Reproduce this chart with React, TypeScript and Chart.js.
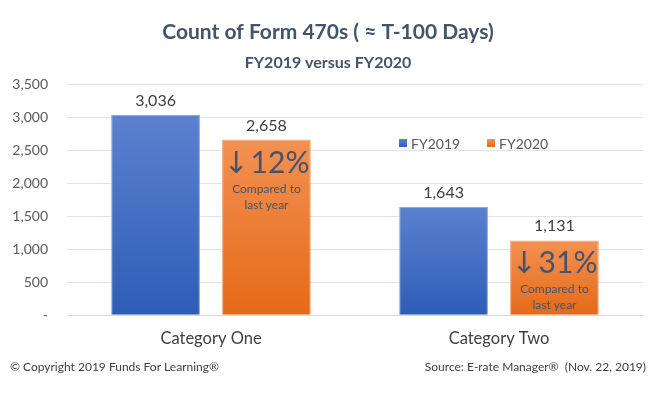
import React, { useEffect, useRef } from "react";
import { Chart, registerables } from "chart.js";

Chart.register(...registerables);

const categories = ["Category One", "Category Two"];
const fy2019 = [3036, 1643];
const fy2020 = [2658, 1131];
const seriesNames = ["FY2019", "FY2020"];
const yTicks = [0, 500, 1000, 1500, 2000, 2500, 3000, 3500];
const changePct = ["12%", "31%"];
const noteLines = ["Compared to", "last year"];
const titleText = "Count of Form 470s ( \u2248 T-100 Days)";
const subtitleText = "FY2019 versus FY2020";
const copyrightText = "\u00A9 Copyright 2019 Funds For Learning\u00AE";
const sourceText = "Source: E-rate Manager\u00AE  (Nov. 22, 2019)";

const FONT = "Lato, 'Open Sans', sans-serif";
const blueTop = "#5B81CF";
const blueBottom = "#2E5DB7";
const orangeTop = "#F39153";
const orangeBottom = "#E46A17";
const titleColor = "#44546A";

function gradientFor(topC: string, botC: string, fallback: string) {
  return (ctx: any) => {
    const chart = ctx.chart;
    const area = chart.chartArea;
    if (!area || ctx.type !== "data" || !chart.scales.y) return fallback;
    const top = chart.scales.y.getPixelForValue(ctx.raw as number);
    const g = chart.ctx.createLinearGradient(0, top, 0, area.bottom);
    g.addColorStop(0, topC);
    g.addColorStop(1, botC);
    return g;
  };
}

const fmt = (v: number) => v.toLocaleString("en-US");

const decorPlugin = {
  id: "decor",
  afterDraw(chart: any) {
    const c = chart.ctx as CanvasRenderingContext2D;
    c.save();
    // titles
    c.textAlign = "center";
    c.textBaseline = "alphabetic";
    c.fillStyle = titleColor;
    c.font = `bold 21px ${FONT}`;
    c.fillText(titleText, 328, 39);
    c.font = `bold 16px ${FONT}`;
    c.fillText(subtitleText, 328, 68);

    // value labels
    c.fillStyle = "#404040";
    c.font = `16px ${FONT}`;
    chart.data.datasets.forEach((ds: any, di: number) => {
      const meta = chart.getDatasetMeta(di);
      meta.data.forEach((bar: any, i: number) => {
        c.textAlign = "center";
        c.fillText(fmt(ds.data[i]), bar.x, bar.y - 9);
      });
    });

    // annotations in FY2020 bars
    const meta2 = chart.getDatasetMeta(1);
    meta2.data.forEach((bar: any, i: number) => {
      c.fillStyle = titleColor;
      c.textAlign = "left";
      c.font = `30px ${FONT}`;
      const pct = changePct[i];
      const pw = c.measureText(pct).width;
      c.font = `30px 'DejaVu Sans'`;
      const arrow = "\u2193";
      const aw = c.measureText(arrow).width;
      const total = aw + 2 + pw;
      const x0 = bar.x - total / 2;
      c.fillText(arrow, x0, bar.y + 33);
      c.font = `30px ${FONT}`;
      c.fillText(pct, x0 + aw + 2, bar.y + 33);
      c.textAlign = "center";
      c.font = `12px ${FONT}`;
      c.fillText(noteLines[0], bar.x, bar.y + 53);
      c.fillText(noteLines[1], bar.x, bar.y + 69);
    });

    // legend
    const colors = [blueBottom, orangeBottom];
    const legendX = [399, 487];
    c.font = `14px ${FONT}`;
    c.textBaseline = "middle";
    c.textAlign = "left";
    seriesNames.forEach((n, i) => {
      const g = c.createLinearGradient(0, 139, 0, 147);
      g.addColorStop(0, i === 0 ? blueTop : orangeTop);
      g.addColorStop(1, colors[i]);
      c.fillStyle = g;
      c.fillRect(legendX[i], 139, 8, 8);
      c.fillStyle = "#595959";
      c.fillText(n, legendX[i] + 12, 144);
    });

    // footer
    c.fillStyle = "#404040";
    c.font = `12px ${FONT}`;
    c.textAlign = "left";
    c.fillText(copyrightText, 10, 367);
    c.textAlign = "right";
    c.fillText(sourceText, 646, 367);
    c.restore();
  },
};

export default function App() {
  const ref = useRef<HTMLCanvasElement>(null);
  useEffect(() => {
    document.body.style.margin = "0";
    const canvas = ref.current!;
    const chart = new Chart(canvas, {
      type: "bar",
      data: {
        labels: categories,
        datasets: [
          {
            label: seriesNames[0],
            data: fy2019,
            backgroundColor: gradientFor(blueTop, blueBottom, blueBottom),
            borderColor: "#7E9DDB",
            borderWidth: 1,
            categoryPercentage: 0.77,
            barPercentage: 0.8,
          },
          {
            label: seriesNames[1],
            data: fy2020,
            backgroundColor: gradientFor(orangeTop, orangeBottom, orangeBottom),
            borderColor: "#F5A36E",
            borderWidth: 1,
            categoryPercentage: 0.77,
            barPercentage: 0.8,
          },
        ],
      },
      options: {
        responsive: false,
        animation: false,
        devicePixelRatio: 1,
        layout: { padding: { top: 84, right: 13, bottom: 31, left: 0 } },
        plugins: {
          legend: { display: false },
          title: { display: false },
          tooltip: { enabled: false },
        },
        scales: {
          x: {
            grid: { display: false, drawTicks: false },
            border: { display: true, color: "#D9D9D9" },
            ticks: { color: "#404040", font: { family: FONT, size: 16.5 }, padding: 14 },
          },
          y: {
            min: 0,
            max: 3500,
            afterBuildTicks: (s: any) => {
              s.ticks = yTicks.map((v) => ({ value: v }));
            },
            afterFit: (s: any) => {
              s.width = 67;
            },
            grid: { color: "#E3E3E3", drawTicks: false },
            border: { display: false },
            ticks: {
              color: "#595959",
              font: { family: FONT, size: 14 },
              padding: 19,
              callback: (v: any) => (v === 0 ? "-" : fmt(Number(v))),
            },
          },
        },
      },
      plugins: [decorPlugin],
    });
    return () => chart.destroy();
  }, []);
  return <canvas ref={ref} width={656} height={394} style={{ display: "block" }} />;
}
